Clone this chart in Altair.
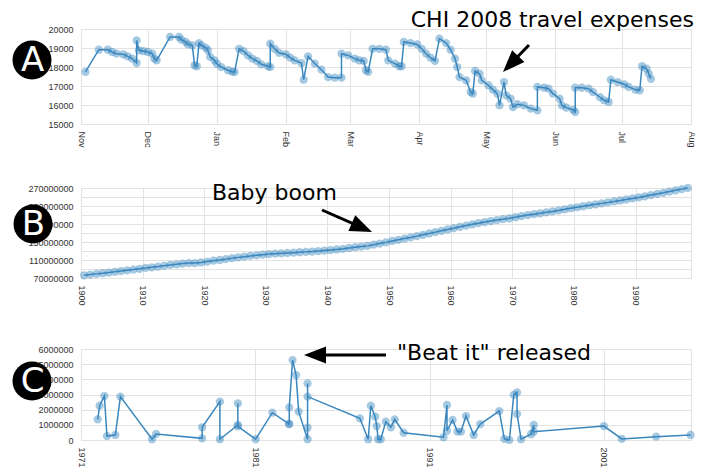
import math
import altair as alt
import pandas as pd

# ---------------- Panel A : CHI 2008 travel expenses ----------------
a_dates = [
    "2007-11-03", "2007-11-09", "2007-11-13", "2007-11-15", "2007-11-17", "2007-11-20",
    "2007-11-22", "2007-11-24", "2007-11-26", "2007-11-26", "2007-11-27", "2007-11-29",
    "2007-12-01", "2007-12-03", "2007-12-04", "2007-12-05", "2007-12-11", "2007-12-15",
    "2007-12-16", "2007-12-18", "2007-12-19", "2007-12-21", "2007-12-22", "2007-12-23",
    "2007-12-24", "2007-12-25", "2007-12-27", "2007-12-28", "2007-12-29", "2007-12-31",
    "2008-01-01", "2008-01-03", "2008-01-06", "2008-01-08", "2008-01-09", "2008-01-11",
    "2008-01-13", "2008-01-15", "2008-01-17", "2008-01-19", "2008-01-21", "2008-01-24",
    "2008-01-25", "2008-01-25", "2008-01-27", "2008-01-29",
    "2008-02-01", "2008-02-03", "2008-02-05", "2008-02-08", "2008-02-09", "2008-02-11",
    "2008-02-14", "2008-02-17", "2008-02-20", "2008-02-23", "2008-02-26", "2008-02-26",
    "2008-02-29",
    "2008-03-03", "2008-03-05", "2008-03-07", "2008-03-08", "2008-03-09", "2008-03-11",
    "2008-03-14", "2008-03-17", "2008-03-18", "2008-03-21", "2008-03-23", "2008-03-24",
    "2008-03-25", "2008-03-28", "2008-03-31",
    "2008-04-02", "2008-04-04", "2008-04-06", "2008-04-08", "2008-04-10", "2008-04-13",
    "2008-04-15", "2008-04-17", "2008-04-18", "2008-04-19", "2008-04-22", "2008-04-24",
    "2008-04-25", "2008-04-26", "2008-04-28", "2008-04-29",
    "2008-05-02", "2008-05-04", "2008-05-06", "2008-05-07", "2008-05-09", "2008-05-10",
    "2008-05-12", "2008-05-13", "2008-05-15", "2008-05-18", "2008-05-21", "2008-05-24",
    "2008-05-24", "2008-05-27", "2008-05-29", "2008-05-31",
    "2008-06-03", "2008-06-04", "2008-06-06", "2008-06-09", "2008-06-10", "2008-06-10",
    "2008-06-13", "2008-06-16", "2008-06-18", "2008-06-21", "2008-06-23", "2008-06-25",
    "2008-06-26", "2008-06-29",
    "2008-07-02", "2008-07-04", "2008-07-07", "2008-07-09", "2008-07-10", "2008-07-12",
    "2008-07-13", "2008-07-14",
]
a_prices = [
    17740, 18910, 18910, 18790, 18700, 18670, 18560, 18440, 18210, 19400, 18880, 18840,
    18790, 18700, 18440, 18350, 19580, 19580, 19440, 19320, 19190, 19140, 18090, 18040,
    19260, 19140, 19020, 18880, 18530, 18350,
    18170, 18000, 17830, 17740, 17740, 18960, 18840, 18610, 18440, 18320, 18140, 18040,
    18000, 19230, 18960, 18740,
    18670, 18490, 18350, 18210, 17330, 18560, 18180, 17860, 17470, 17440, 17440, 18700,
    18610,
    18440, 18350, 18320, 17830, 17740, 18960, 18960, 18910, 18350, 18180, 18040, 18040,
    19320, 19260, 19190,
    18960, 18700, 18490, 18320, 19490, 19260, 18910, 18440, 18000, 17470, 17300, 16680,
    16600, 17790, 17650, 17300,
    17040, 16810, 16600, 15980, 17210, 16510, 16330, 15890, 16040, 15980, 15810, 15720,
    16950, 16910, 16860, 16600,
    16330, 15980, 15860, 15750, 15630, 16910, 16910, 16860, 16680, 16420, 16250, 16160,
    17330, 17210,
    17090, 16950, 16810, 16770, 18040, 17910, 17650, 17380,
]

# ---------------- Panel B : US population ----------------
b_years = list(range(1900, 1999))
b_population = [
    76094000, 77584000, 79163000, 80632000, 82166000, 83822000, 85450000, 87008000, 88710000, 90490000,
    92407000, 93863000, 95335000, 97225000, 99111000, 100546000, 101961000, 103268000, 103208000, 104514000,
    106461000, 108538000, 110049000, 111947000, 114109000, 115829000, 117397000, 119035000, 120509000, 121767000,
    123077000, 124040000, 124840000, 125579000, 126374000, 127250000, 128053000, 128825000, 129825000, 130880000,
    132122000, 133402000, 134860000, 136739000, 138397000, 139928000, 141389000, 144126000, 146631000, 149188000,
    152271000, 154878000, 157553000, 160184000, 163026000, 165931000, 168903000, 171984000, 174882000, 177830000,
    180671000, 183691000, 186538000, 189242000, 191889000, 194303000, 196560000, 198712000, 200706000, 202677000,
    205052000, 207661000, 209896000, 211909000, 213854000, 215973000, 218035000, 220239000, 222585000, 225055000,
    227225000, 229466000, 231664000, 233792000, 235825000, 237924000, 240133000, 242289000, 244499000, 246819000,
    249000000, 251600000, 254200000, 256800000, 259400000, 262100000, 264800000, 267500000, 270300000,
]

# ---------------- Panel C : record sales ----------------
c_years = [
    1971.96, 1972.07, 1972.34, 1972.49, 1972.97, 1973.26, 1975.08, 1975.31, 1977.95, 1977.95,
    1978.97, 1978.97, 1980.0, 1980.0, 1980.0, 1981.02, 1981.98, 1982.93, 1982.95, 1982.95,
    1983.14, 1983.34, 1983.49, 1984.0, 1984.0, 1984.0, 1984.0, 1987.0, 1987.48, 1987.63,
    1987.88, 1987.97, 1988.05, 1988.2, 1988.49, 1988.78, 1989.0, 1989.51, 1991.8, 1992.0,
    1992.0, 1992.32, 1992.6, 1992.8, 1993.09, 1993.53, 1993.91, 1995.0, 1995.29, 1995.58,
    1995.83, 1996.02, 1996.02, 1996.25, 1996.82, 1996.98, 1996.98, 2001.0, 2002.03, 2004.0,
    2005.98,
]
c_sales = [
    1360000, 2260000, 2900000, 260000, 330000, 2860000, 50000, 400000, 110000, 840000,
    2530000, 50000, 990000, 2420000, 900000, 50000, 1800000, 1070000, 1050000, 2150000,
    5270000, 4280000, 1870000, 50000, 810000, 3730000, 2860000, 1430000, 50000, 2260000,
    1540000, 920000, 50000, 50000, 1210000, 840000, 1360000, 480000, 180000, 2310000,
    610000, 1320000, 550000, 550000, 1580000, 330000, 1050000, 1910000, 70000, 0,
    2970000, 3140000, 1710000, 50000, 380000, 990000, 550000, 920000, 70000, 220000,
    330000,
]

# ---------------- styling ----------------
BLUE = "#3a87be"
W = 610
LABEL_FONT = "Liberation Sans"
NOTE_FONT = "DejaVu Sans"


def axis(**kw):
    base = dict(title=None, labelFont=LABEL_FONT, labelFontSize=9, labelColor="#333",
                grid=True, gridColor="#e3e3e3", ticks=False, tickSize=0, domain=False,
                labelPadding=7, labelOverlap=False)
    base.update(kw)
    return alt.Axis(**base)


def series(df, x, y):
    base = alt.Chart(df)
    line = base.mark_line(color=BLUE, strokeWidth=1.5).encode(x=x, y=y, order="i:Q")
    pts = base.mark_circle(color=BLUE, opacity=0.45, size=68).encode(x=x, y=y)
    return [line, pts]


def one():
    return pd.DataFrame({"k": [0]})


def note(text, x, y, align):
    return alt.Chart(one()).mark_text(
        text=text, align=align, baseline="alphabetic", font=NOTE_FONT, fontSize=22,
        color="black").encode(x=alt.value(x), y=alt.value(y))


def badge(letter, cx, cy):
    circ = alt.Chart(one()).mark_circle(color="black", opacity=1, size=math.pi * 22 ** 2).encode(
        x=alt.value(cx), y=alt.value(cy))
    txt = alt.Chart(one()).mark_text(
        text=letter, align="center", baseline="alphabetic", font=NOTE_FONT, fontSize=34,
        color="white").encode(x=alt.value(cx + 0.5), y=alt.value(cy + 11))
    return [circ, txt]


def arrow(x1, y1, x2, y2, head_len=22, head_w=17, width=3):
    dx, dy = x2 - x1, y2 - y1
    L = math.hypot(dx, dy)
    ux, uy = dx / L, dy / L
    s = head_len / 2
    cx, cy = x2 - ux * s, y2 - uy * s
    bx, by = x2 - ux * head_len * 0.8, y2 - uy * head_len * 0.8
    ang = math.degrees(math.atan2(ux, -uy)) % 360
    hw = head_w / head_len
    path = f"M0,-1L{hw:.3f},1L{-hw:.3f},1Z"
    rule = alt.Chart(one()).mark_rule(color="black", strokeWidth=width).encode(
        x=alt.value(x1), y=alt.value(y1), x2=alt.value(bx), y2=alt.value(by))
    head = alt.Chart(one()).mark_point(
        shape=path, filled=True, color="black", opacity=1, size=head_len ** 2,
        angle=round(ang, 2), strokeWidth=0).encode(x=alt.value(cx), y=alt.value(cy))
    return [rule, head]


# ---- Panel A
df_a = pd.DataFrame({"date": pd.to_datetime(a_dates), "price": a_prices})
df_a["i"] = range(len(df_a))
xa = alt.X("date:T",
           scale=alt.Scale(domain=[alt.DateTime(year=2007, month=11, date=1),
                                   alt.DateTime(year=2008, month=8, date=1)]),
           axis=axis(format="%b", tickCount={"interval": "month", "step": 1}, labelAngle=90))
ya = alt.Y("price:Q", scale=alt.Scale(domain=[15000, 20000], nice=False),
           axis=axis(values=[15000, 16000, 17000, 18000, 19000, 20000], format="d", labelPadding=8))
panel_a = alt.layer(
    *series(df_a, xa, ya),
    note("CHI 2008 travel expenses", 613, -2, "right"),
    *arrow(448, 16, 422, 43),
    *badge("A", -49, 31),
).properties(width=W, height=95)

# ---- Panel B
df_b = pd.DataFrame({"year": b_years, "population": b_population})
df_b["i"] = range(len(df_b))
xb = alt.X("mid:Q", scale=alt.Scale(domain=[1900, 1999], nice=False, zero=False),
           axis=axis(values=list(range(1900, 2000, 10)), format="d", labelAngle=90))
yb_vals = list(range(70000000, 270000001, 20000000))
yb = alt.Y("population:Q", scale=alt.Scale(domain=[70000000, 270000000], nice=False, zero=False),
           axis=axis(values=yb_vals, format="d", labelPadding=8,
                     labelExpr="(datum.value - 70000000) % 40000000 == 0 ? datum.label : ''"))
b_line, b_pts = series(df_b, xb, yb)
panel_b = alt.layer(
    b_line.transform_calculate(mid="datum.year + 0.5"),
    b_pts.transform_calculate(mid="datum.year + 0.5"),
    note("Baby boom", 131, 12, "left"),
    *arrow(241, 22, 291, 44),
    *badge("B", -48, 36),
).properties(width=W, height=90)

# ---- Panel C
df_c = pd.DataFrame({"year": c_years, "sales": c_sales})
df_c["i"] = range(len(df_c))
xc = alt.X("year:Q", scale=alt.Scale(domain=[1971, 2006], nice=False, zero=False),
           axis=axis(values=[1971, 1981, 1991, 2001], format="d", labelAngle=90))
yc = alt.Y("sales:Q", scale=alt.Scale(domain=[0, 6000000], nice=False),
           axis=axis(values=[0, 1000000, 2000000, 3000000, 4000000, 5000000, 6000000],
                     format="d", labelPadding=8))
panel_c = alt.layer(
    *series(df_c, xc, yc),
    note('"Beat it" released', 316, 11, "left"),
    *arrow(305, 6, 223, 6),
    *badge("C", -49, 32),
).properties(width=W, height=91)

top = alt.vconcat(panel_a, panel_b, spacing=32)
chart = alt.vconcat(top, panel_c, spacing=35).properties(
    padding={"left": 4, "top": 0, "right": 4, "bottom": 0}
).configure_view(stroke="#e3e3e3")

chart.save("out.html", embed_options={"renderer": "svg", "actions": False})
